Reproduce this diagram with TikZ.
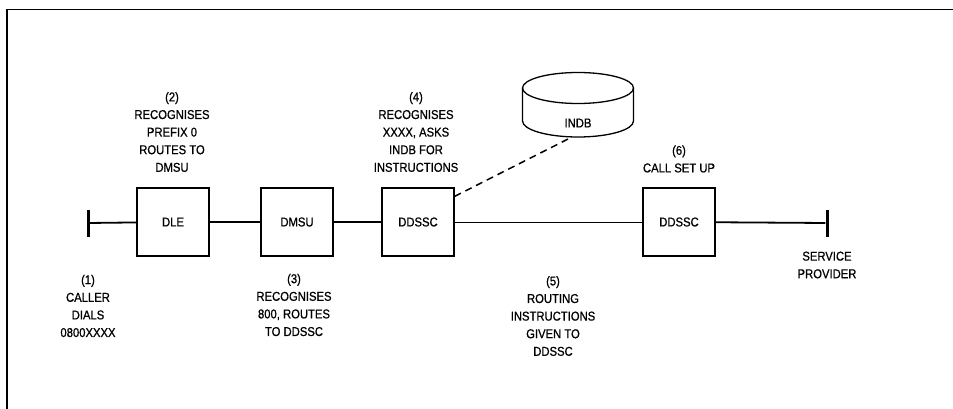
\documentclass[tikz,border=0pt]{standalone}
\usepackage{fontspec}
\newfontfamily\labelfont[FakeStretch=0.88,FakeBold=0.8]{Liberation Sans}
\usetikzlibrary{calc}
\tikzset{
  lbl/.style={align=center, inner sep=0pt,
    font={\labelfont\fontsize{12.8}{17.6}\selectfont}},
  exch/.style={draw, line width=1.3pt, minimum width=72pt, minimum height=68pt,
    inner sep=0pt, font={\labelfont\fontsize{12.8}{14}\selectfont}},
  term/.style={fill=black, inner sep=0pt, minimum width=3pt, minimum height=27pt},
  trunk/.style={line width=1.8pt},
  thintrunk/.style={line width=1pt},
  dblink/.style={line width=1.5pt, dash pattern=on 7pt off 5pt},
}
\begin{document}
\begin{tikzpicture}[x=1pt, y=-1pt]
  \useasboundingbox (0,0) rectangle (953,409);
  % page frame
  \draw[line width=1.5pt] (7,409) -- (7,9.5) -- (953,9.5);

  % exchanges along the call path
  \node[exch] (dle)  at (173,222) {DLE};
  \node[exch] (dmsu) at (297,222) {DMSU};
  \node[exch] (dd1)  at (418,222) {DDSSC};
  \node[exch] (dd2)  at (679,222) {DDSSC};

  % caller and service provider terminations
  \node[term] (caller) at (88,223) {};
  \node[term] (sp)     at (827,223) {};

  \draw[trunk] (caller) -- (dle);
  \draw[trunk] (dle) -- (dmsu);
  \draw[trunk] (dmsu) -- (dd1);
  \draw[thintrunk] (dd1) -- (dd2);
  \draw[trunk] (dd2) -- (sp);

  % INDB database drum (y axis points down, so angle 90 is downwards)
  \draw[line width=1.3pt]
    (522.5,88) -- (522.5,121)
    arc[start angle=180, end angle=0, x radius=55.5, y radius=16]
    -- (633.5,88);
  \draw[line width=1.3pt] (578,88) ellipse[x radius=55.5, y radius=15.5];
  \node[lbl] (indb) at (578,123) {INDB};
  \coordinate (indbfoot) at (572,137);

  \draw[dblink] ($(dd1.north east)!0.13!(dd1.south east)$) -- (indbfoot);

  % step annotations
  \node[lbl] (s1) at (88,306)  {(1)\\CALLER\\DIALS\\0800XXXX};
  \node[lbl] (s2) at (172,132) {(2)\\RECOGNISES\\PREFIX 0\\ROUTES TO\\DMSU};
  \node[lbl] (s3) at (294,305) {(3)\\RECOGNISES\\800, ROUTES\\TO DDSSC};
  \node[lbl] (s4) at (416,132) {(4)\\RECOGNISES\\XXXX, ASKS\\INDB FOR\\INSTRUCTIONS};
  \node[lbl] (s5) at (553,316) {(5)\\ROUTING\\INSTRUCTIONS\\GIVEN TO\\DDSSC};
  \node[lbl] (s6) at (679,159) {(6)\\CALL SET UP};
  \node[lbl] (s7) at (827,265) {SERVICE\\PROVIDER};
\end{tikzpicture}
\end{document}
